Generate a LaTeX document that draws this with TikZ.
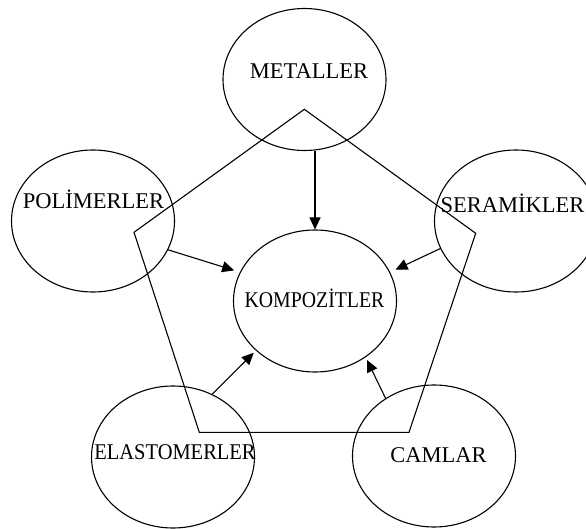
\documentclass[tikz,border=0pt]{standalone}
\usepackage{fontspec}
\setmainfont{Liberation Serif}
\usetikzlibrary{arrows.meta,shapes.geometric}

\tikzset{
  phase/.style={draw, ellipse, line width=1.1pt, minimum width=163pt, minimum height=142pt, inner sep=0pt},
  tag/.style={font=\fontsize{22.5}{26}\selectfont, anchor=base, inner sep=0pt},
  feed/.style={line width=1.1pt, -{Triangle[length=12pt,width=11pt]}},
}

\begin{document}
\begin{tikzpicture}[x=1pt,y=-1pt]
  \useasboundingbox (0,0) rectangle (586,529);
  % pentagon behind the material classes
  \draw[line width=1.1pt] (304.3,109.3) -- (475.7,233.3) -- (409,432.3) -- (199.3,432.3) -- (134,232.3) -- cycle;

  \node[phase] (met)  at (304.5,79.5) {};
  \node[phase] (pol)  at (93,221)     {};
  \node[phase] (ser)  at (516,221)    {};
  \node[phase] (komp) at (315,301)    {};
  \node[phase] (ela)  at (173,457)    {};
  \node[phase] (cam)  at (434,456)    {};

  % long words are set a little narrower
  \node[tag] (met-t)  at (309,78.5)    {METALLER};
  \node[tag] (pol-t)  at (93.5,209)    {POLİMERLER};
  \node[tag] (ser-t)  at (512.5,212.5) {SERAMİKLER};
  \node[tag] (komp-t) at (314.5,307.5) {\scalebox{0.88}[1]{KOMPOZİTLER}};
  \node[tag] (ela-t)  at (175,459)     {\scalebox{0.91}[1]{ELASTOMERLER}};
  \node[tag] (cam-t)  at (438.5,462.5) {CAMLAR};

  % everything feeds into the composites
  \draw[feed] (met.south -| komp.north) -- (komp.north);
  \draw[feed, shorten >=6pt] (pol.-21) -- (komp.159);
  \draw[feed, shorten >=6pt] (ser.200) -- (komp.21);
  \draw[feed, shorten >=3pt] (ela.58) -- (komp.220);
  \draw[feed, shorten >=3pt] (cam.130) -- (komp.-48);
\end{tikzpicture}
\end{document}
